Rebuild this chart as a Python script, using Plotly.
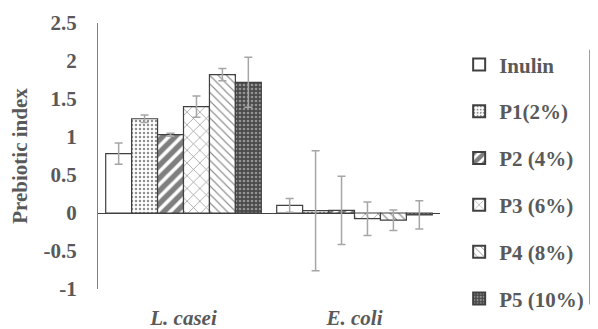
import plotly.graph_objects as go

categories = ["<b><i>L. casei</i></b>", "<b><i>E. coli</i></b>"]
series_names = ["Inulin", "P1(2%)", "P2 (4%)", "P3 (6%)", "P4 (8%)", "P5 (10%)"]
inulin = [0.78, 0.10]
p1 = [1.24, 0.03]
p2 = [1.03, 0.035]
p3 = [1.40, -0.075]
p4 = [1.82, -0.095]
p5 = [1.72, -0.025]
inulin_err = [0.14, 0.09]
p1_err = [0.05, 0.79]
p2_err = [0.02, 0.45]
p3_err = [0.14, 0.22]
p4_err = [0.08, 0.135]
p5_err = [0.33, 0.185]
y_ticks = [-1, -0.5, 0, 0.5, 1, 1.5, 2, 2.5]

values = [inulin, p1, p2, p3, p4, p5]
errors = [inulin_err, p1_err, p2_err, p3_err, p4_err, p5_err]

patterns = [
    dict(shape="", bgcolor="white"),
    dict(shape=".", fgcolor="#222222", bgcolor="white", size=4, solidity=0.3),
    dict(shape="/", fgcolor="black", bgcolor="white", size=9, solidity=0.6),
    dict(shape="x", fgcolor="#222222", bgcolor="white", size=9, solidity=0.15),
    dict(shape="\\", fgcolor="#222222", bgcolor="white", size=6, solidity=0.2),
    dict(shape=".", fgcolor="#dddddd", bgcolor="#4a4a4a", size=4, solidity=0.35),
]

TEXT = "#595959"
FONT = "Liberation Serif"
FS = 21

fig = go.Figure()
for i, name in enumerate(series_names):
    fig.add_trace(go.Bar(
        x=categories, y=values[i], name="<b>" + name + "</b>",
        legendgroup=str(i),
        marker=dict(color="white", pattern=patterns[i],
                    line=dict(color="#404040", width=1.2)),
        error_y=dict(type="data", array=errors[i], visible=True,
                     color="#a6a6a6", thickness=1.5, width=4),
    ))

# page body has an 8px default margin, so the figure is 8px smaller
fig.update_layout(
    width=590, height=321,
    margin=dict(l=90, r=158, t=15, b=40, autoexpand=False),
    paper_bgcolor="white", plot_bgcolor="white",
    barmode="group", bargap=0.09, bargroupgap=0,
    font=dict(family=FONT, size=FS, color=TEXT),
    showlegend=True,
    legend=dict(x=1.056, xanchor="left", y=0.92, yanchor="top",
                font=dict(family=FONT, size=FS, color=TEXT),
                tracegroupgap=16.5, itemwidth=30, itemsizing="constant",
                maxheight=1),
    xaxis=dict(showline=False, showgrid=False, ticks="", automargin=False,
               tickfont=dict(family=FONT, size=FS, color=TEXT),
               ticklabelstandoff=14),
    yaxis=dict(range=[-1, 2.5], tickvals=y_ticks, automargin=False,
               ticktext=["<b>%g</b>" % v for v in y_ticks],
               showgrid=False, showline=True, linecolor="#7f7f7f", linewidth=1.2,
               zeroline=True, zerolinecolor="#404040", zerolinewidth=1.2,
               ticks="", ticklabelstandoff=16,
               tickfont=dict(family=FONT, size=FS, color=TEXT),
               title=dict(text="<b>Prebiotic index</b>", standoff=10,
                          font=dict(family=FONT, size=FS, color=TEXT))),
)

fig.write_html("out.html")
